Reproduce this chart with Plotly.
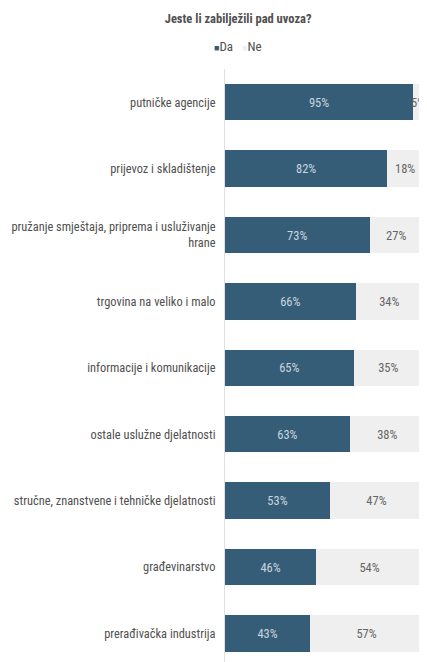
import plotly.graph_objects as go

categories = [
    "putničke agencije",
    "prijevoz i skladištenje",
    "pružanje smještaja, priprema i usluživanje<br>hrane",
    "trgovina na veliko i malo",
    "informacije i komunikacije",
    "ostale uslužne djelatnosti",
    "stručne, znanstvene i tehničke djelatnosti",
    "građevinarstvo",
    "prerađivačka industrija",
]
da_values = [95, 82, 73, 66, 65, 63, 53, 46, 43]
ne_values = [5, 18, 27, 34, 35, 38, 47, 54, 57]
series_names = ["Da", "Ne"]
series_colors = ["#365D78", "#EFEFEF"]

FONT = "Roboto Condensed, Liberation Sans Narrow, Arial Narrow, sans-serif"

fig = go.Figure()
fig.add_trace(go.Bar(
    y=categories, x=da_values, name=series_names[0], orientation="h",
    marker=dict(color=series_colors[0], line=dict(width=0)),
    text=[f"{v}%" for v in da_values], textposition="inside",
    insidetextanchor="middle", showlegend=False,
    textfont=dict(color="#C9D5DF", size=12.5, family=FONT),
))
fig.add_trace(go.Bar(
    y=categories, x=ne_values, name=series_names[1], orientation="h",
    marker=dict(color=series_colors[1], line=dict(width=0)),
    text=[f"{v}%" for v in ne_values], textposition="inside",
    insidetextanchor="middle", showlegend=False,
    textfont=dict(color="#666666", size=12.5, family=FONT),
))

legend_text = "   ".join(
    f"<span style='color:{c}; font-size:9px'>■</span>{n}"
    for n, c in zip(series_names, series_colors)
)
fig.add_annotation(
    text=legend_text, xref="paper", yref="paper", x=0.066, y=1.038,
    xanchor="center", yanchor="middle", showarrow=False,
    font=dict(size=13, color="#505050", family=FONT),
)

fig.update_layout(
    width=427, height=662,
    barmode="stack", bargap=0.45,
    plot_bgcolor="white", paper_bgcolor="white",
    margin=dict(l=217, r=12, t=61, b=8),
    font=dict(family=FONT, size=12.4, color="#505050"),
    uniformtext=dict(minsize=12.5, mode="show"),
    title=dict(text="<b>Jeste li zabilježili pad uvoza?</b>", x=0.539, xanchor="center",
               y=0.984, yanchor="middle", font=dict(size=12.5, color="#505050", family=FONT)),
    showlegend=False,
)
fig.update_xaxes(range=[0, 100], visible=False, fixedrange=True)
fig.update_yaxes(range=[8.43, -0.5], showgrid=False, zeroline=False,
                 showline=True, linecolor="#E0E0E0", linewidth=1,
                 ticks="", ticklabelstandoff=6, automargin=False,
                 tickfont=dict(size=12.4, color="#505050", family=FONT))

fig.write_html("out.html")
